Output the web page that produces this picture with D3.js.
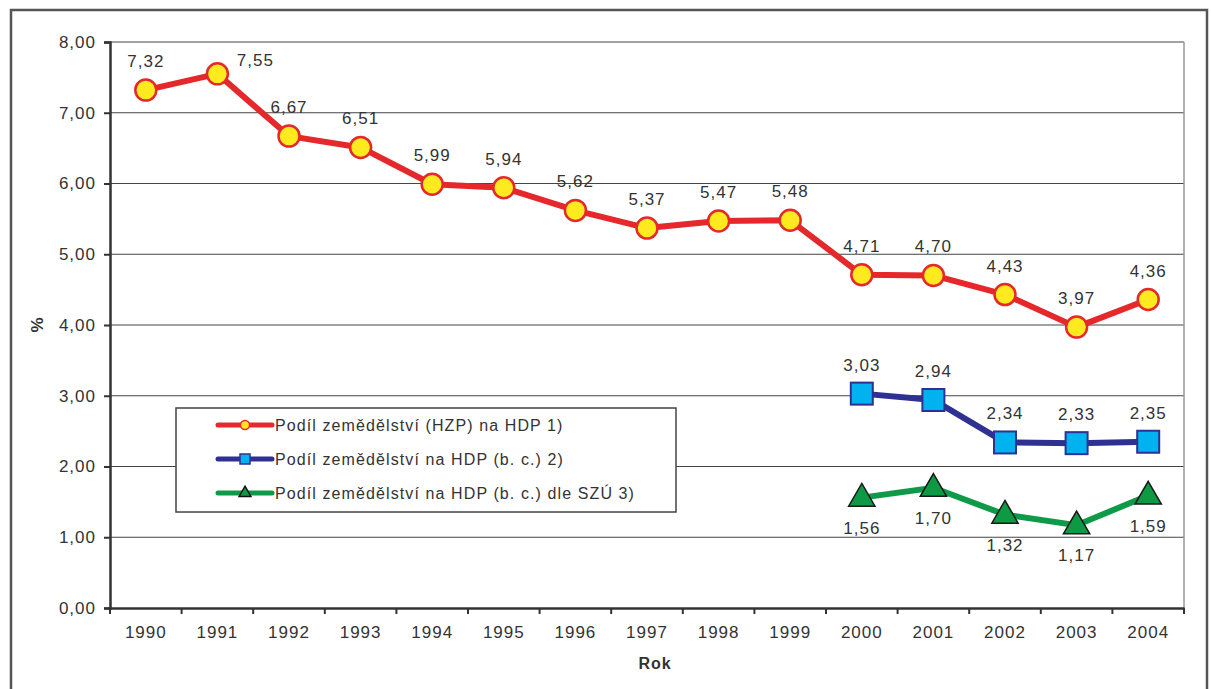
<!DOCTYPE html>
<html>
<head>
<meta charset="utf-8">
<script src="https://cdn.jsdelivr.net/npm/d3@7"></script>
<style>
  body { margin: 0; background: #fff; }
  text { font-family: "Liberation Sans", Arial, sans-serif; fill: #333; }
</style>
</head>
<body>
<div id="chart"></div>
<script>
// data
let years = ["1990","1991","1992","1993","1994","1995","1996","1997","1998","1999","2000","2001","2002","2003","2004"];
let hzp = [7.32,7.55,6.67,6.51,5.99,5.94,5.62,5.37,5.47,5.48,4.71,4.70,4.43,3.97,4.36];
let bcYears = ["2000","2001","2002","2003","2004"];
let bc = [3.03,2.94,2.34,2.33,2.35];
let szu = [1.56,1.70,1.32,1.17,1.59];
let yTicks = [0,1,2,3,4,5,6,7,8];
let seriesNames = ["Podíl zemědělství (HZP) na HDP 1)", "Podíl zemědělství na HDP (b. c.) 2)", "Podíl zemědělství na HDP (b. c.) dle SZÚ 3)"];

let W = 1211, H = 689;
let m = {left: 110, top: 42, right: 1184, bottom: 608};
let fmt = v => v.toFixed(2).replace(".", ",");

let svg = d3.select("#chart").append("svg")
  .attr("width", W)
  .attr("height", H);

// outer frame
svg.append("rect")
  .attr("x", 11).attr("y", 10)
  .attr("width", 1196).attr("height", 700)
  .attr("fill", "none").attr("stroke", "#555").attr("stroke-width", 2.5);

let x = d3.scaleBand().domain(years).range([m.left, m.right]);
let y = d3.scaleLinear().domain([0, 8]).range([m.bottom, m.top]);
let cx = d => x(d) + x.bandwidth() / 2;

// grid
svg.append("g").selectAll("line")
  .data(yTicks.filter(t => t > 0))
  .enter().append("line")
  .attr("x1", m.left).attr("x2", m.right)
  .attr("y1", d => y(d)).attr("y2", d => y(d))
  .attr("stroke", "#444").attr("stroke-width", 1.2);

// right border of plot
svg.append("line")
  .attr("x1", m.right).attr("x2", m.right)
  .attr("y1", m.top).attr("y2", m.bottom)
  .attr("stroke", "#999").attr("stroke-width", 1.5);

// y axis
let yAxis = svg.append("g")
  .attr("transform", "translate(" + m.left + ",0)")
  .call(d3.axisLeft(y).tickValues(yTicks).tickFormat(fmt).tickSize(6).tickPadding(8));
yAxis.select(".domain").attr("stroke", "#333").attr("stroke-width", 2.5);
yAxis.selectAll(".tick line").attr("stroke", "#333").attr("stroke-width", 2);
yAxis.selectAll("text").style("font-size", "17px").style("letter-spacing", "1px").attr("fill", "#333")
  .style("font-family", "Liberation Sans, Arial, sans-serif");

// x axis
let xAxis = svg.append("g")
  .attr("transform", "translate(0," + m.bottom + ")")
  .call(d3.axisBottom(x).tickSize(0).tickPadding(18));
xAxis.select(".domain").attr("stroke", "#333").attr("stroke-width", 2.5);
xAxis.selectAll("text").style("font-size", "17px").style("letter-spacing", "1px").attr("fill", "#333")
  .style("font-family", "Liberation Sans, Arial, sans-serif");
// tick marks between categories
svg.append("g").selectAll("line")
  .data(years.concat(["end"]))
  .enter().append("line")
  .attr("x1", (d, i) => m.left + i * x.bandwidth())
  .attr("x2", (d, i) => m.left + i * x.bandwidth())
  .attr("y1", m.bottom).attr("y2", m.bottom + 6)
  .attr("stroke", "#333").attr("stroke-width", 2);

// axis titles
svg.append("text")
  .attr("x", (m.left + m.right) / 2 + 8).attr("y", 669)
  .attr("text-anchor", "middle")
  .style("font-size", "16px").style("font-weight", "bold").style("letter-spacing", "1px").attr("fill", "#222")
  .text("Rok");
svg.append("text")
  .attr("transform", "translate(43," + y(4) + ") rotate(-90)")
  .attr("text-anchor", "middle")
  .style("font-size", "17px").style("font-weight", "bold").attr("fill", "#222")
  .text("%");

let line = d3.line();

// red series
let redData = years.map((d, i) => [cx(d), y(hzp[i])]);
svg.append("path").attr("d", line(redData))
  .attr("fill", "none").attr("stroke", "#e5282b").attr("stroke-width", 6).attr("stroke-linejoin", "round");
svg.append("g").selectAll("circle")
  .data(hzp).enter().append("circle")
  .attr("cx", (d, i) => cx(years[i])).attr("cy", d => y(d))
  .attr("r", 10.5)
  .attr("fill", "#ffe91f").attr("stroke", "#e5282b").attr("stroke-width", 2.5);
svg.append("g").selectAll("text")
  .data(hzp).enter().append("text")
  .attr("x", (d, i) => cx(years[i]) + (i == 1 ? 38 : 0))
  .attr("y", (d, i) => y(d) + (i == 1 ? -8 : -23))
  .attr("text-anchor", "middle")
  .style("font-size", "17px").style("letter-spacing", "1px")
  .text(fmt);

// blue series
let blueData = bcYears.map((d, i) => [cx(d), y(bc[i])]);
svg.append("path").attr("d", line(blueData))
  .attr("fill", "none").attr("stroke", "#2e3192").attr("stroke-width", 6);
svg.append("g").selectAll("rect")
  .data(bc).enter().append("rect")
  .attr("x", (d, i) => cx(bcYears[i]) - 11).attr("y", d => y(d) - 11)
  .attr("width", 22).attr("height", 22)
  .attr("fill", "#00b2ef").attr("stroke", "#2e3192").attr("stroke-width", 2);
svg.append("g").selectAll("text")
  .data(bc).enter().append("text")
  .attr("x", (d, i) => cx(bcYears[i]))
  .attr("y", d => y(d) - 23)
  .attr("text-anchor", "middle")
  .style("font-size", "17px").style("letter-spacing", "1px")
  .text(fmt);

// green series
let greenData = bcYears.map((d, i) => [cx(d), y(szu[i])]);
svg.append("path").attr("d", line(greenData))
  .attr("fill", "none").attr("stroke", "#0e9a48").attr("stroke-width", 6);
let tri = d3.symbol().type(d3.symbolTriangle).size(300);
svg.append("g").selectAll("path")
  .data(szu).enter().append("path")
  .attr("d", tri)
  .attr("transform", (d, i) => "translate(" + cx(bcYears[i]) + "," + (y(d) + 1) + ")")
  .attr("fill", "#0c9a44").attr("stroke", "#1a1a1a").attr("stroke-width", 1.5);
svg.append("g").selectAll("text")
  .data(szu).enter().append("text")
  .attr("x", (d, i) => cx(bcYears[i]))
  .attr("y", d => y(d) + 36)
  .attr("text-anchor", "middle")
  .style("font-size", "17px").style("letter-spacing", "1px")
  .text(fmt);

// legend
let lg = svg.append("g");
lg.append("rect")
  .attr("x", 176).attr("y", 408).attr("width", 500).attr("height", 104)
  .attr("fill", "#fff").attr("stroke", "#444").attr("stroke-width", 1.5);
let lColors = ["#e5282b", "#2e3192", "#0e9a48"];
seriesNames.forEach((name, i) => {
  let ly = 425 + i * 34;
  lg.append("line")
    .attr("x1", 218).attr("x2", 272).attr("y1", ly).attr("y2", ly)
    .attr("stroke", lColors[i]).attr("stroke-width", 5).attr("stroke-linecap", "round");
  if (i == 0) {
    lg.append("circle").attr("cx", 245).attr("cy", ly).attr("r", 4.5)
      .attr("fill", "#ffe91f").attr("stroke", "#e5282b").attr("stroke-width", 1.5);
  } else if (i == 1) {
    lg.append("rect").attr("x", 240).attr("y", ly - 5).attr("width", 10).attr("height", 10)
      .attr("fill", "#00b2ef").attr("stroke", "#2e3192").attr("stroke-width", 1.5);
  } else {
    lg.append("path").attr("d", d3.symbol().type(d3.symbolTriangle).size(60))
      .attr("transform", "translate(245," + ly + ")")
      .attr("fill", "#0c9a44").attr("stroke", "#111").attr("stroke-width", 1.5);
  }
  lg.append("text")
    .attr("x", 275).attr("y", ly + 6)
    .style("font-size", "16px").style("letter-spacing", "1.1px")
    .text(name);
});
</script>
</body>
</html>
